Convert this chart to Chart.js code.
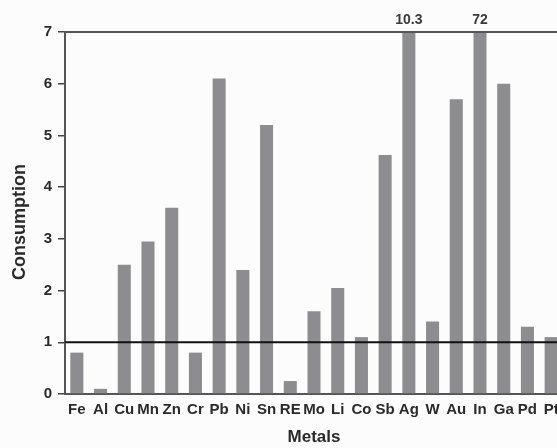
<!DOCTYPE html>
<html>
<head>
<meta charset="utf-8">
<script src="https://cdn.jsdelivr.net/npm/chart.js@4.4.1/dist/chart.umd.min.js"></script>
<style>
  html, body { margin: 0; padding: 0; background: #fcfcfc; overflow: hidden; }
  #wrap { position: relative; width: 580px; height: 448px; }
</style>
</head>
<body>
<div id="wrap"><canvas id="metalChart"></canvas></div>
<script>
// --- Data ---
const metals = ['Fe', 'Al', 'Cu', 'Mn', 'Zn', 'Cr', 'Pb', 'Ni', 'Sn', 'RE', 'Mo',
                'Li', 'Co', 'Sb', 'Ag', 'W', 'Au', 'In', 'Ga', 'Pd', 'Pt'];
const consumption = [0.8, 0.1, 2.5, 2.95, 3.6, 0.8, 6.1, 2.4, 5.2, 0.25, 1.6,
                     2.05, 1.1, 4.62, 10.3, 1.4, 5.7, 72, 6.0, 1.3, 1.1];
const yTicks = [0, 1, 2, 3, 4, 5, 6, 7];
const refLine = 1;
const yTitle = 'Consumption';

const FONT = '"Liberation Sans", Arial, sans-serif';

// --- Plugin: reference line, top frame, y title, labels for off-scale bars ---
const extras = {
    id: 'extras',
    afterDatasetsDraw(chart) {
        const { ctx, chartArea, scales } = chart;
        const y = scales.y;
        ctx.save();
        // top frame line
        ctx.strokeStyle = '#555';
        ctx.lineWidth = 2;
        ctx.beginPath();
        ctx.moveTo(chartArea.left, y.getPixelForValue(y.max));
        ctx.lineTo(chartArea.right, y.getPixelForValue(y.max));
        ctx.stroke();
        // reference line
        ctx.strokeStyle = '#111';
        ctx.lineWidth = 2;
        ctx.beginPath();
        ctx.moveTo(chartArea.left, y.getPixelForValue(refLine));
        ctx.lineTo(chartArea.right, y.getPixelForValue(refLine));
        ctx.stroke();
        // values of bars beyond the axis
        const meta = chart.getDatasetMeta(0);
        ctx.fillStyle = '#3a3a3a';
        ctx.font = 'bold 14px ' + FONT;
        ctx.textAlign = 'center';
        ctx.textBaseline = 'middle';
        consumption.forEach((v, i) => {
            if (v > y.max) ctx.fillText(String(v), meta.data[i].x, chartArea.top - 12);
        });
        // y axis title, a little below the middle as in the original
        ctx.translate(20, (chartArea.top + chartArea.bottom) / 2 + 9);
        ctx.rotate(-Math.PI / 2);
        ctx.fillStyle = '#2a2a2a';
        ctx.font = 'bold 18px ' + FONT;
        ctx.fillText(yTitle, 0, 0);
        ctx.restore();
    }
};

const ctx = document.getElementById('metalChart').getContext('2d');
new Chart(ctx, {
    type: 'bar',
    data: {
        labels: metals,
        datasets: [{
            data: consumption,
            backgroundColor: '#8d8d8f',
            borderWidth: 0,
            barPercentage: 0.55,
            categoryPercentage: 1
        }]
    },
    options: {
        responsive: true,
        maintainAspectRatio: false,
        animation: false,
        layout: { padding: { top: 32, right: 17, left: 0, bottom: 0 } },
        plugins: { legend: { display: false }, tooltip: { enabled: false } },
        scales: {
            x: {
                afterFit(scale) { scale.height = 54; },
                grid: { display: false, drawTicks: false },
                border: { color: '#555', width: 2 },
                ticks: {
                    autoSkip: false, maxRotation: 0, padding: 7,
                    color: '#2a2a2a',
                    font: { family: FONT, size: 15, weight: 'bold' }
                },
                title: {
                    display: true, text: 'Metals', color: '#2a2a2a',
                    padding: { top: 0, bottom: 0 },
                    font: { family: FONT, size: 17, weight: 'bold' }
                }
            },
            y: {
                min: 0, max: 7,
                afterFit(scale) { scale.width = 65; },
                afterBuildTicks(scale) { scale.ticks = yTicks.map(v => ({ value: v })); },
                grid: { drawOnChartArea: false, tickLength: 7, color: '#444', lineWidth: 1.5 },
                border: { color: '#555', width: 2 },
                ticks: {
                    padding: 6, color: '#2a2a2a',
                    font: { family: FONT, size: 15, weight: 'bold' }
                }
            }
        }
    },
    plugins: [extras]
});
</script>
</body>
</html>
